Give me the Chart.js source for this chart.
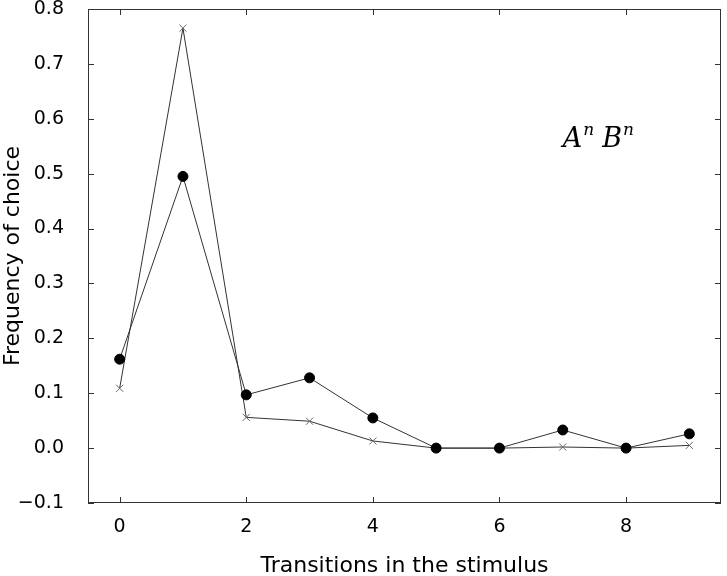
<!DOCTYPE html>
<html>
<head>
<meta charset="utf-8">
<script src="https://cdn.jsdelivr.net/npm/chart.js@4"></script>
<style>
  html, body { margin: 0; padding: 0; background: #fff; }
  canvas { display: block; }
</style>
</head>
<body>
<canvas id="chart" width="727" height="576"></canvas>
<script>
const transitions = [0, 1, 2, 3, 4, 5, 6, 7, 8, 9];
const dotValues = [0.162, 0.495, 0.097, 0.128, 0.055, 0.0, 0.0, 0.033, 0.0, 0.026];
const crossValues = [0.109, 0.765, 0.056, 0.049, 0.013, 0.0, 0.0, 0.002, 0.0, 0.005];
const xTicks = [0, 2, 4, 6, 8];
const yTicks = [-0.1, 0.0, 0.1, 0.2, 0.3, 0.4, 0.5, 0.6, 0.7, 0.8];

const toPoints = vals => vals.map((v, i) => ({ x: transitions[i], y: v }));

// frame on all sides plus inward tick marks, matplotlib style
const framePlugin = {
  id: "frame",
  afterDraw(chart) {
    const ctx = chart.ctx;
    const a = chart.chartArea;
    const xs = chart.scales.x, ys = chart.scales.y;
    ctx.save();
    ctx.strokeStyle = "#333";
    ctx.lineWidth = 1;
    ctx.strokeRect(a.left + 0.5, a.top + 0.5, a.right - a.left - 1, a.bottom - a.top - 1);
    ctx.beginPath();
    xTicks.forEach(v => {
      const px = Math.round(xs.getPixelForValue(v)) + 0.5;
      ctx.moveTo(px, a.bottom); ctx.lineTo(px, a.bottom - 6);
      ctx.moveTo(px, a.top); ctx.lineTo(px, a.top + 6);
    });
    yTicks.forEach(v => {
      const py = Math.round(ys.getPixelForValue(v)) + 0.5;
      ctx.moveTo(a.left, py); ctx.lineTo(a.left + 6, py);
      ctx.moveTo(a.right, py); ctx.lineTo(a.right - 6, py);
    });
    ctx.stroke();

    // annotation A^n B^n
    ctx.fillStyle = "#000";
    ctx.textBaseline = "alphabetic";
    const big = "italic 27px 'DejaVu Serif'", small = "italic 17px 'DejaVu Serif'";
    const bx = xs.getPixelForValue(7.0), by = ys.getPixelForValue(0.548);
    ctx.font = big;
    ctx.fillText("A", bx, by);
    let w = ctx.measureText("A").width;
    ctx.font = small;
    ctx.fillText("n", bx + w + 1, by - 12);
    w += ctx.measureText("n").width + 9;
    ctx.font = big;
    ctx.fillText("B", bx + w, by);
    w += ctx.measureText("B").width;
    ctx.font = small;
    ctx.fillText("n", bx + w + 1, by - 12);
    ctx.restore();
  }
};

const noPad = axis => {
  axis.paddingTop = 0; axis.paddingBottom = 0;
  axis.paddingLeft = 0; axis.paddingRight = 0;
};

new Chart(document.getElementById("chart"), {
  type: "line",
  data: {
    datasets: [{
      label: "dots",
      data: toPoints(dotValues),
      borderColor: "#333",
      borderWidth: 1,
      pointStyle: "circle",
      pointRadius: 5,
      pointBackgroundColor: "#000",
      pointBorderColor: "#000",
      tension: 0
    }, {
      label: "crosses",
      data: toPoints(crossValues),
      borderColor: "#333",
      borderWidth: 1,
      pointStyle: "crossRot",
      pointRadius: 5,
      pointBorderColor: "#666",
      pointBorderWidth: 1,
      tension: 0
    }]
  },
  options: {
    responsive: false,
    animation: false,
    layout: { padding: { top: 9, right: -2, left: 0, bottom: 0 } },
    plugins: { legend: { display: false }, tooltip: { enabled: false } },
    scales: {
      x: {
        type: "linear",
        min: -0.5,
        max: 9.5,
        afterBuildTicks: axis => { axis.ticks = xTicks.map(v => ({ value: v })); },
        afterFit: axis => { axis.height = 73; noPad(axis); },
        grid: { display: false },
        border: { display: false },
        ticks: { color: "#000", padding: 5, font: { family: "DejaVu Sans", size: 19 } },
        title: { display: true, text: "Transitions in the stimulus", color: "#000", padding: { top: 10, bottom: -3 }, font: { family: "DejaVu Sans", size: 22 } }
      },
      y: {
        min: -0.1,
        max: 0.8,
        afterBuildTicks: axis => { axis.ticks = yTicks.map(v => ({ value: v })); },
        afterFit: axis => { axis.width = 88; noPad(axis); },
        grid: { display: false },
        border: { display: false },
        ticks: {
          color: "#000",
          padding: 16,
          font: { family: "DejaVu Sans", size: 19 },
          callback: v => (v < 0 ? "\u2212" : "") + Math.abs(v).toFixed(1)
        },
        title: { display: true, text: "Frequency of choice", color: "#000", padding: { top: 0, bottom: 4 }, font: { family: "DejaVu Sans", size: 22 } }
      }
    }
  },
  plugins: [framePlugin]
});
</script>
</body>
</html>
